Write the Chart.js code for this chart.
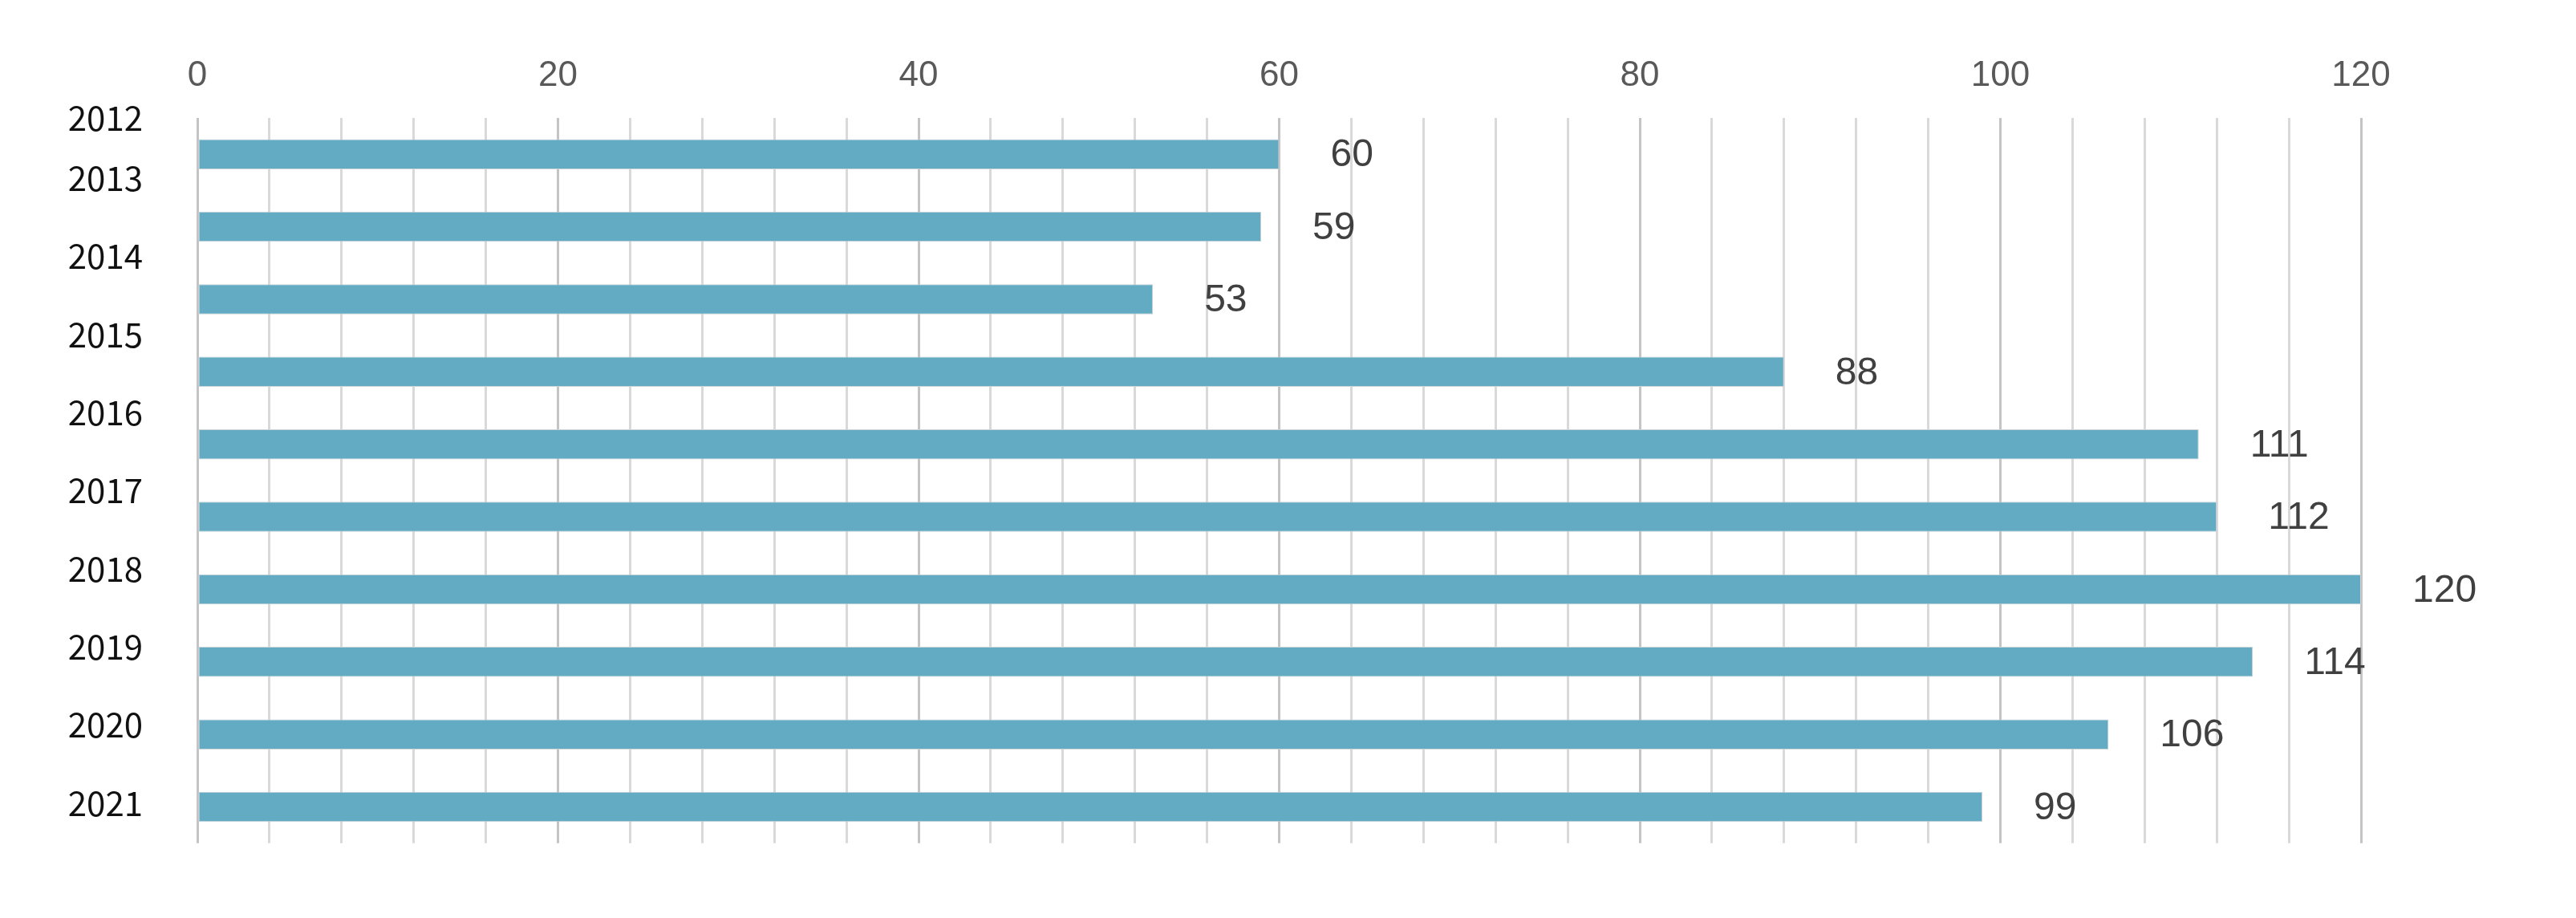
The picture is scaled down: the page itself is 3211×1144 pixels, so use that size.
<!DOCTYPE html>
<html>
<head>
<meta charset="utf-8">
<script src="https://cdn.jsdelivr.net/npm/chart.js@4"></script>
<style>
  html, body { margin: 0; padding: 0; background: #fff; }
  canvas { display: block; }
</style>
</head>
<body>
<canvas id="barChart" width="3211" height="1144"></canvas>
<script>
const years = ['2012', '2013', '2014', '2015', '2016', '2017', '2018', '2019', '2020', '2021'];
const counts = [60, 59, 53, 88, 111, 112, 120, 114, 106, 99];
const xTickStep = 4;
const xLabelStep = 20;
const xMax = 120;

/* ---- value labels to the right of each bar ---- */
const valueLabels = {
  id: 'valueLabels',
  afterDatasetsDraw(chart) {
    const ctx = chart.ctx;
    const meta = chart.getDatasetMeta(0);
    ctx.save();
    ctx.font = '48px "Liberation Sans", Arial, sans-serif';
    ctx.fillStyle = '#404040';
    ctx.textAlign = 'left';
    ctx.textBaseline = 'middle';
    meta.data.forEach((bar, i) => {
      ctx.fillText(String(counts[i]), bar.x + 64, bar.y + 2);
    });
    ctx.restore();
  }
};

new Chart(document.getElementById('barChart'), {
  type: 'bar',
  data: {
    labels: years,
    datasets: [{
      data: counts,
      backgroundColor: '#62abc2',
      borderColor: '#c9d2d5',
      borderWidth: 1,
      borderSkipped: false,
      categoryPercentage: 1,
      barPercentage: 0.415,
      yAxisID: 'y'
    }]
  },
  options: {
    indexAxis: 'y',
    responsive: false,
    devicePixelRatio: 1,
    animation: false,
    layout: { padding: { top: 0, left: 0, right: 268, bottom: 83 } },
    plugins: {
      legend: { display: false },
      tooltip: { enabled: false }
    },
    scales: {
      x: {
        position: 'top',
        min: 0,
        max: xMax,
        border: { display: false },
        grid: {
          drawTicks: false,
          lineWidth: 3,
          color: (c) => (c.tick && c.tick.value % xLabelStep === 0) ? '#c4c4c4' : '#d9d9d9'
        },
        ticks: {
          stepSize: xTickStep,
          autoSkip: false,
          maxRotation: 0,
          padding: 26,
          color: '#595959',
          font: { family: '"Liberation Sans", Arial, sans-serif', size: 44 },
          callback: (v) => (v % xLabelStep === 0 ? v : '')
        },
        afterFit: (scale) => { scale.height = 147; }
      },
      y: {
        display: false
      },
      // year labels sit on their own axis, a little off the bar centres as in the source
      yYear: {
        type: 'linear',
        position: 'left',
        reverse: true,
        offset: false,
        bounds: 'data',
        min: 0.228,
        max: 9.516,
        border: { display: false },
        grid: { display: false, drawTicks: false, offset: false },
        afterBuildTicks: (scale) => {
          scale.ticks = years.map((y, i) => ({ value: Math.max(i, scale.min) }));
        },
        ticks: {
          autoSkip: false,
          padding: 68,
          color: '#111',
          font: { family: '"Noto Sans CJK KR", "Noto Sans", sans-serif', size: 42 },
          callback: (v) => v < 1 ? years[0] : (years[Math.round(v)] || '')
        },
        afterFit: (scale) => { scale.width = 246; }
      }
    }
  },
  plugins: [valueLabels]
});
</script>
</body>
</html>
